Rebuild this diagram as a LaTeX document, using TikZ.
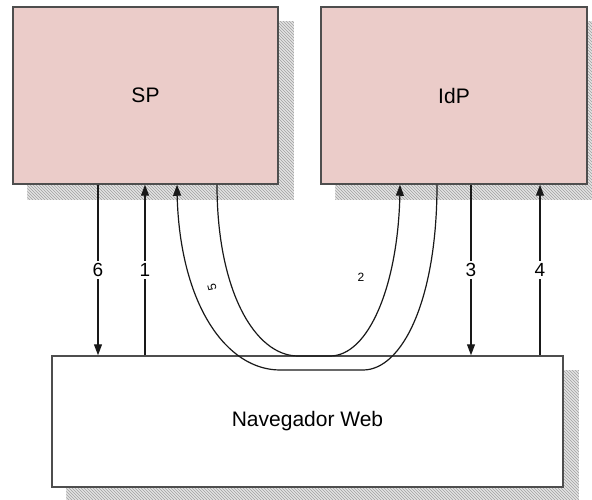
\documentclass[tikz,border=0pt]{standalone}
\usepackage{fontspec}
\setmainfont{Liberation Sans}
\usetikzlibrary{arrows.meta,bending,patterns,calc,backgrounds}
\definecolor{boxpink}{RGB}{235,204,201}
\definecolor{edgegray}{RGB}{78,78,78}
\definecolor{hatchgray}{RGB}{160,160,160}
\begin{document}
\begin{tikzpicture}[x=1pt,y=-1pt,
  party/.style={draw=edgegray,line width=1.5pt,fill=boxpink,inner sep=0pt,
    minimum height=177pt,font=\fontsize{21}{25}\selectfont},
  client/.style={draw=edgegray,line width=1.5pt,fill=white,inner sep=0pt,
    minimum width=511pt,minimum height=131pt,font=\fontsize{21}{25}\selectfont},
  boxshadow/.style={fill=gray!22,postaction={pattern=north west lines,pattern color=hatchgray}},
  link/.style={draw=black!90,line width=1.2pt},
  tip/.tip={Triangle[length=11pt,width=8pt]},
  num/.style={fill=white,inner sep=2pt,font=\fontsize{19}{22}\selectfont},
  smallnum/.style={inner sep=1pt,font=\fontsize{12}{14}\selectfont}]
\useasboundingbox (0,0) rectangle (592,500);

% the three parties
\node[party,minimum width=265pt] (sp)  at (145.5,95.5) {SP};
\node[party,minimum width=266pt] (idp) at (454,95.5) {IdP};
\node[client] (nav) at (307.5,421.5) {Navegador Web};

% hatched drop shadows behind the boxes
\begin{scope}[on background layer]
  \path[boxshadow] ($(sp.south west)+(15,15)$) rectangle ($(sp.north east)+(15,15)$);
  \path[boxshadow] ($(idp.south west)+(15,15)$) rectangle ($(idp.north east)+(15,15)$);
  \path[boxshadow] ($(nav.south west)+(15,15)$) rectangle ($(nav.north east)+(15,15)$);
\end{scope}

% x positions of the connectors
\coordinate (x6) at (98,0);
\coordinate (x1) at (145,0);
\coordinate (x5) at (177,0);
\coordinate (x2) at (217,0);
\coordinate (x2e) at (400,0);
\coordinate (x5s) at (437,0);
\coordinate (x3) at (471,0);
\coordinate (x4) at (540,0);

% straight messages
\draw[link,-tip] (sp.south -| x6) -- (nav.north -| x6) node[num,pos=0.5] (l6) {6};
\draw[link,-tip] (nav.north -| x1) -- (sp.south -| x1) node[num,pos=0.5] (l1) {1};
\draw[link,-tip] (idp.south -| x3) -- (nav.north -| x3) node[num,pos=0.5] (l3) {3};
\draw[link,-tip] (nav.north -| x4) -- (idp.south -| x4) node[num,pos=0.5] (l4) {4};

% redirects through the browser
\draw[link,{tip[flex]}-] (sp.south -| x5) .. controls +(0,116) and +(-55,0) .. (280,370)
  -- (363,370) .. controls +(39,0) and +(0,116) .. (idp.south -| x5s);
\draw[link,-{tip[flex]}] (sp.south -| x2) .. controls +(0,106) and +(-43,0) .. (298,356)
  -- (330,356) .. controls +(40,0) and +(0,96) .. (idp.south -| x2e);

\node[smallnum,rotate=105] (l5) at (212,287) {5};
\node[smallnum] (l2) at (361,277) {2};
\end{tikzpicture}
\end{document}
